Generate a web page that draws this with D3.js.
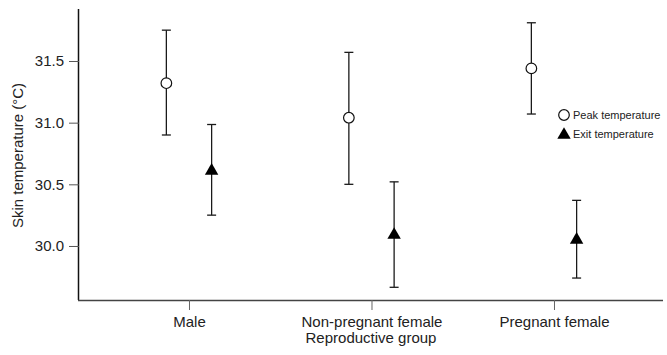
<!DOCTYPE html>
<html>
<head>
<meta charset="utf-8">
<script src="https://cdn.jsdelivr.net/npm/d3@7"></script>
<style>
  html, body { margin: 0; padding: 0; background: #fff; }
  svg { display: block; }
  text { font-family: "Liberation Sans", Arial, Helvetica, sans-serif; fill: #222; }
</style>
</head>
<body>
<svg id="chart" width="667" height="355"></svg>
<script>
const categories = ["Male", "Non-pregnant female", "Pregnant female"];
const peakMean = [31.32, 31.04, 31.44];
const peakLow  = [30.90, 30.50, 31.07];
const peakHigh = [31.75, 31.57, 31.81];
const exitMean = [30.61, 30.09, 30.05];
const exitLow  = [30.25, 29.665, 29.74];
const exitHigh = [30.985, 30.52, 30.37];
const yTicks = [30.0, 30.5, 31.0, 31.5];
const seriesNames = ["Peak temperature", "Exit temperature"];

const svg = d3.select("#chart");
const mLeft = 79, mRight = 663, mTop = 9, mBottom = 300;

const y = d3.scaleLinear().domain([29.562, 31.9216]).range([mBottom, mTop]);
const x = d3.scaleLinear().domain([0.3973, 3.5973]).range([mLeft, mRight]);
const dodge = 0.124;

// axes
const yAxis = d3.axisLeft(y).tickValues(yTicks).tickFormat(d3.format(".1f")).tickSize(10).tickPadding(5);
const gy = svg.append("g").attr("transform", `translate(${mLeft},0)`).call(yAxis);
gy.select(".domain").attr("d", `M-0.5,${mTop}V${mBottom}`).attr("stroke", "#111").attr("stroke-width", 1.5);
gy.selectAll(".tick line").attr("stroke", "#555").attr("stroke-width", 1);
gy.selectAll(".tick text").style("font-size", "15px").attr("fill", "#222")
  .style("font-family", '"Liberation Sans", Arial, sans-serif');

const xAxis = d3.axisBottom(x).tickValues([1, 2, 3]).tickFormat((d) => categories[d - 1]).tickSize(10).tickPadding(6);
const gx = svg.append("g").attr("transform", `translate(0,${mBottom})`).call(xAxis);
gx.select(".domain").attr("d", `M${mLeft - 1},0.5H${mRight}`).attr("stroke", "#444").attr("stroke-width", 1.5);
gx.selectAll(".tick line").attr("stroke", "#666").attr("stroke-width", 1);
gx.selectAll(".tick text").style("font-size", "15px").attr("fill", "#222")
  .style("font-family", '"Liberation Sans", Arial, sans-serif');

// axis titles
svg.append("text")
  .attr("transform", `translate(23,${(mTop + mBottom) / 2 + 1}) rotate(-90)`)
  .attr("text-anchor", "middle")
  .style("font-size", "15px")
  .text("Skin temperature (°C)");

svg.append("text")
  .attr("x", 371).attr("y", 343)
  .attr("text-anchor", "middle")
  .style("font-size", "15px")
  .text("Reproductive group");

// series data
const peak = categories.map((c, i) => ({ i: i + 1, m: peakMean[i], lo: peakLow[i], hi: peakHigh[i] }));
const exitS = categories.map((c, i) => ({ i: i + 1, m: exitMean[i], lo: exitLow[i], hi: exitHigh[i] }));

function errorBars(data, off) {
  const g = svg.append("g").attr("stroke", "#1a1a1a").attr("stroke-width", 1.3).attr("fill", "none");
  data.forEach((d) => {
    const cx = x(d.i + off);
    g.append("line").attr("x1", cx).attr("x2", cx).attr("y1", y(d.hi)).attr("y2", y(d.lo));
    g.append("line").attr("x1", cx - 4.5).attr("x2", cx + 4.5).attr("y1", y(d.hi)).attr("y2", y(d.hi));
    g.append("line").attr("x1", cx - 4.5).attr("x2", cx + 4.5).attr("y1", y(d.lo)).attr("y2", y(d.lo));
  });
}
errorBars(peak, -dodge);
errorBars(exitS, dodge);

svg.append("g").selectAll("circle").data(peak).join("circle")
  .attr("cx", (d) => x(d.i - dodge)).attr("cy", (d) => y(d.m)).attr("r", 5.3)
  .attr("fill", "#fff").attr("stroke", "#111").attr("stroke-width", 1.2);

const tri = d3.symbol().type(d3.symbolTriangle).size(78);
svg.append("g").selectAll("path").data(exitS).join("path")
  .attr("transform", (d) => `translate(${x(d.i + dodge)},${y(d.m)})`)
  .attr("d", tri).attr("fill", "#000");

// legend
const lg = svg.append("g");
lg.append("circle").attr("cx", 564).attr("cy", 115).attr("r", 5.3)
  .attr("fill", "#fff").attr("stroke", "#111").attr("stroke-width", 1.2);
lg.append("path").attr("transform", "translate(564,135)").attr("d", tri).attr("fill", "#000");
lg.append("text").attr("x", 573).attr("y", 115).attr("dy", "0.35em").style("font-size", "11px").text(seriesNames[0]);
lg.append("text").attr("x", 573).attr("y", 134).attr("dy", "0.35em").style("font-size", "11px").text(seriesNames[1]);
</script>
</body>
</html>
